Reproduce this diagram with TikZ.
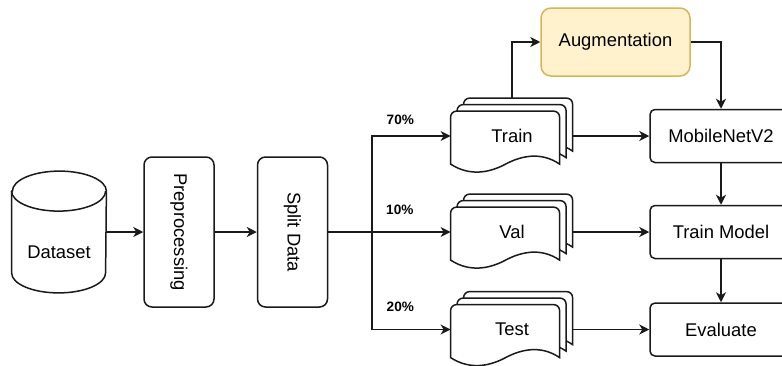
\documentclass[tikz,border=0pt]{standalone}
\usepackage{fontspec}
\setmainfont{Liberation Sans}
\usepackage{xcolor}
\usepackage{tikz}
\usetikzlibrary{arrows.meta,backgrounds}
\definecolor{augfill}{HTML}{FFF2CC}
\definecolor{augline}{HTML}{D6B656}
\definecolor{linedark}{HTML}{1A1A1A}
\tikzset{
  stage/.style={draw=linedark, line width=0.75pt, rounded corners=4pt, align=center, fill=white, inner sep=0pt, minimum width=35pt, minimum height=75pt, font=\fontsize{9.2}{11}\selectfont},
  model/.style={draw=linedark, line width=0.75pt, rounded corners=2.5pt, align=center, fill=white, inner sep=0pt, minimum width=71pt, minimum height=26.5pt, font=\fontsize{9.2}{11}\selectfont},
  augment/.style={draw=augline, line width=0.75pt, rounded corners=5pt, align=center, fill=augfill, inner sep=0pt, minimum width=74.5pt, minimum height=34pt, font=\fontsize{9.2}{11}\selectfont},
  docset/.style={inner sep=0pt, minimum width=61pt, minimum height=37.5pt, font=\fontsize{9.2}{11}\selectfont},
  store/.style={inner sep=0pt, minimum width=47pt, minimum height=60.5pt},
  plain/.style={inner sep=0pt, font=\fontsize{9.2}{11}\selectfont},
  page/.style={draw=linedark, line width=0.75pt, fill=white},
  pct/.style={inner sep=0pt, font=\fontsize{6.8}{8}\selectfont\bfseries},
  arrow/.style={-{Stealth[length=5pt, width=5pt, inset=1.5pt]}, line width=0.75pt, draw=linedark}
}
\newcommand{\pagestack}[1]{%
  \begin{pgfonlayer}{background}
    \foreach \off in {13,6.5,0}
      \draw[page, shift={(#1.north west)}, shift={(\off,13-\off)}]
        (0,53) [rounded corners=3pt] -- (0,0) -- (109,0) [sharp corners] -- (109,53)
        .. controls (90,40) and (70,45) .. (55,53)
        .. controls (40,61) and (20,66) .. (0,53) -- cycle;
  \end{pgfonlayer}}

\begin{document}
\begin{tikzpicture}[x=0.5pt, y=-0.5pt]
  \useasboundingbox (0,0) rectangle (782,365);
  \clip (0,0) rectangle (782,365);

  % input side
  \node[store] (dataset) at (59,232) {};
  \draw[page] ([yshift=-10pt]dataset.north west) -- ([yshift=10pt]dataset.south west)
    arc[start angle=180, end angle=360, x radius=23.5pt, y radius=10pt]
    -- ([yshift=-10pt]dataset.north east)
    arc[start angle=0, end angle=180, x radius=23.5pt, y radius=10pt] -- cycle;
  \draw[page, fill=none] ([yshift=-10pt]dataset.north west)
    arc[start angle=180, end angle=360, x radius=23.5pt, y radius=10pt];
  \node[plain] (datasettext) at (59,252) {Dataset};
  \node[stage] (prep) at (179,232) {\rotatebox{-90}{Preprocessing}};
  \node[stage] (split) at (292.5,232) {\rotatebox{-90}{Split Data}};

  % data subsets
  \node[docset] (train) at (512,136) {Train};
  \node[docset] (val) at (512,232) {Val};
  \node[docset] (test) at (512,329.5) {Test};
  \pagestack{train}
  \pagestack{val}
  \pagestack{test}

  % model side
  \node[augment] (aug) at (615.5,42) {Augmentation};
  \node[model] (mobile) at (721,136) {MobileNetV2};
  \node[model] (trainmodel) at (721,232) {Train Model};
  \node[model] (evaluate) at (721,329.5) {Evaluate};

  \coordinate (fork) at (372,232);

  \draw[arrow] (dataset) -- (prep);
  \draw[arrow] (prep) -- (split);
  \draw[arrow] (split) -- node[pct, pos=0.585, above=8.5pt] {10\%} (val);
  \draw[arrow] (fork) |- node[pct, pos=0.68, above=5.5pt] {70\%} (train.west);
  \draw[arrow] (fork) |- node[pct, pos=0.68, above=8.5pt] {20\%} (test.west);
  \draw[arrow] (train.north) |- (aug.west);
  \draw[arrow] (aug.east) -| (mobile.north);
  \draw[arrow] (train) -- (mobile);
  \draw[arrow] (val) -- (trainmodel);
  \draw[arrow] (test) -- (evaluate);
  \draw[arrow] (mobile) -- (trainmodel);
  \draw[arrow] (trainmodel) -- (evaluate);
\end{tikzpicture}
\end{document}
